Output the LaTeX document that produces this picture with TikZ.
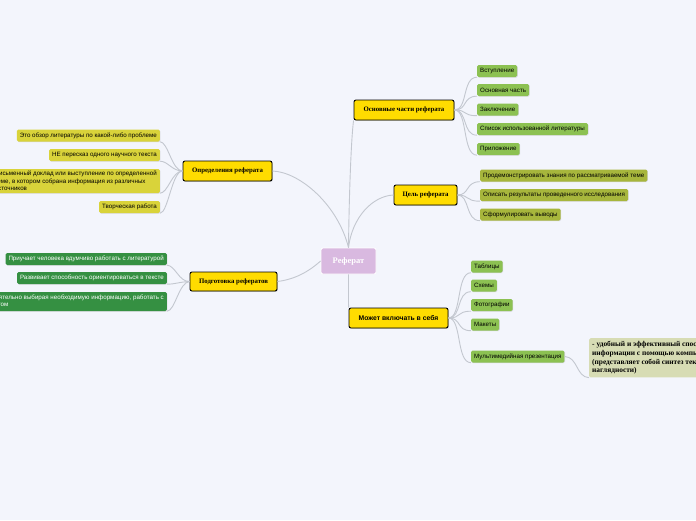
\documentclass[tikz,border=0pt]{standalone}
\usepackage{fontspec}
\setmainfont{Liberation Serif}
\setsansfont{Liberation Sans}
\usetikzlibrary{shadows}

\definecolor{bgcol}{HTML}{F3F5FC}
\definecolor{linkgray}{HTML}{C3C7CF}
\definecolor{hubcol}{HTML}{D9B9E0}
\definecolor{topiccol}{HTML}{FFDC00}
\definecolor{leafgreen}{HTML}{8CC152}
\definecolor{leafolive}{HTML}{A7B63C}
\definecolor{leafyellow}{HTML}{D9D33A}
\definecolor{leafdark}{HTML}{359042}
\definecolor{notecol}{HTML}{D7DCB4}

\begin{document}
\begin{tikzpicture}[x=1pt,y=-1pt,
  link/.style={draw=linkgray,line width=0.9pt},
  hub/.style={fill=hubcol,draw=white,line width=0.8pt,rounded corners=2pt,text=white,
    font=\bfseries\fontsize{8.5}{10}\selectfont,minimum width=55pt,minimum height=26pt},
  topic/.style={fill=topiccol,draw=black,line width=0.9pt,rounded corners=2pt,
    font=\bfseries\fontsize{6.8}{8}\selectfont,minimum height=20pt,inner xsep=2pt,
    drop shadow={opacity=0.35,shadow xshift=0.8pt,shadow yshift=-0.8pt}},
  leaf/.style={rounded corners=1.5pt,inner xsep=3pt,inner ysep=1pt,minimum height=12pt,
    font=\sffamily\fontsize{6.2}{7.3}\selectfont,align=left,
    drop shadow={opacity=0.25,shadow xshift=0.6pt,shadow yshift=-0.6pt}},
  greenleaf/.style={leaf,fill=leafgreen,anchor=west},
  oliveleaf/.style={leaf,fill=leafolive,anchor=west},
  yellowleaf/.style={leaf,fill=leafyellow,anchor=east},
  darkleaf/.style={leaf,fill=leafdark,text=white,anchor=east},
  note/.style={fill=notecol,anchor=north west,rounded corners=1.5pt,inner xsep=3pt,
    inner ysep=3pt,align=left,font=\bfseries\fontsize{7.4}{8.8}\selectfont,
    minimum height=39pt}]

\fill[bgcol] (0,0) rectangle (696,520);
\useasboundingbox (0,0) rectangle (696,520);
\clip (0,0) rectangle (696,520);

% main branches
\node[hub] (ref) at (348.5,261) {Реферат};
\node[topic,minimum width=100pt] (parts) at (404,110) {Основные части реферата};
\node[topic,minimum width=63pt] (goal) at (425.5,195) {Цель реферата};
\node[topic,minimum width=99pt,font=\sffamily\bfseries\fontsize{6.8}{8}\selectfont] (may) at (398.5,318) {Может включать в себя};
\node[topic,minimum width=89pt] (defs) at (227.5,171) {Определения реферата};
\node[topic,minimum width=87pt,minimum height=19pt] (prep) at (233.5,281.5) {Подготовка рефератов};

\draw[link] (ref.north) .. controls (349,200) and (351,140) .. (parts.south west);
\draw[link] (ref.north) .. controls (352,218) and (372,196) .. (goal.west);
\draw[link] (ref.south) -- (may.north west);
\draw[link] (ref.north) .. controls (338,205) and (300,172) .. (defs.east);
\draw[link] (ref.west) .. controls (305,275) and (290,280) .. (prep.east);

% Основные части
\node[greenleaf] (p1) at (477,71) {Вступление};
\node[greenleaf] (p2) at (477,90) {Основная часть};
\node[greenleaf] (p3) at (477,109.5) {Заключение};
\node[greenleaf] (p4) at (477,129) {Список использованной литературы};
\node[greenleaf] (p5) at (477,149) {Приложение};
\foreach \n in {p1,p2,p3,p4,p5}
  \draw[link] (parts.east) .. controls (468,110) and (462,0|-\n.south west) .. (\n.south west);

% Цель
\node[oliveleaf] (g1) at (480,175.5) {Продемонстрировать знания по рассматриваемой теме};
\node[oliveleaf] (g2) at (480,195) {Описать результаты проведенного исследования};
\node[oliveleaf] (g3) at (480,214.5) {Сформулировать выводы};
\foreach \n in {g1,g2,g3}
  \draw[link] (goal.east) .. controls (470,195) and (465,0|-\n.south west) .. (\n.south west);

% Может включать в себя
\node[greenleaf] (m1) at (471,266.5) {Таблицы};
\node[greenleaf] (m2) at (471,285.5) {Схемы};
\node[greenleaf] (m3) at (471,305) {Фотографии};
\node[greenleaf] (m4) at (471,324.5) {Макеты};
\node[greenleaf] (m5) at (471,356.5) {Мультимедийная презентация};
\foreach \n in {m1,m2,m3,m4,m5}
  \draw[link] (may.east) .. controls (462,318) and (456,0|-\n.south west) .. (\n.south west);
\node[note] (mnote) at (589,338) {- удобный и эффективный способ представления\\
  информации с помощью компьютерных программ\\
  (представляет собой синтез текста, звука и\\
  наглядности)};
\draw[link] (m5.east) .. controls (578,357) and (576,377) .. (mnote.south west);

% Определения
\node[yellowleaf] (d1) at (160,135.5) {Это обзор литературы по какой-либо проблеме};
\node[yellowleaf] (d2) at (160,155) {НЕ пересказ одного научного текста};
\node[yellowleaf,minimum height=24pt] (d3) at (160,181) {Письменный доклад или выступление по определенной\\
  теме, в котором собрана информация из различных\\ источников};
\node[yellowleaf] (d4) at (160,207) {Творческая работа};
\foreach \n in {d1,d2,d3,d4}
  \draw[link] (defs.west) .. controls (172,171) and (168,0|-\n.south east) .. (\n.south east);

% Подготовка
\node[darkleaf] (r1) at (167,259) {Приучает человека вдумчиво работать с литературой};
\node[darkleaf] (r2) at (167,278) {Развивает способность ориентироваться в тексте};
\node[darkleaf,minimum height=19pt] (r3) at (167,301.5) {Самостоятельно выбирая необходимую информацию, работать с\\ документом};
\foreach \n in {r1,r2,r3}
  \draw[link] (prep.west) .. controls (179,282) and (175,0|-\n.south east) .. (\n.south east);

\end{tikzpicture}
\end{document}
